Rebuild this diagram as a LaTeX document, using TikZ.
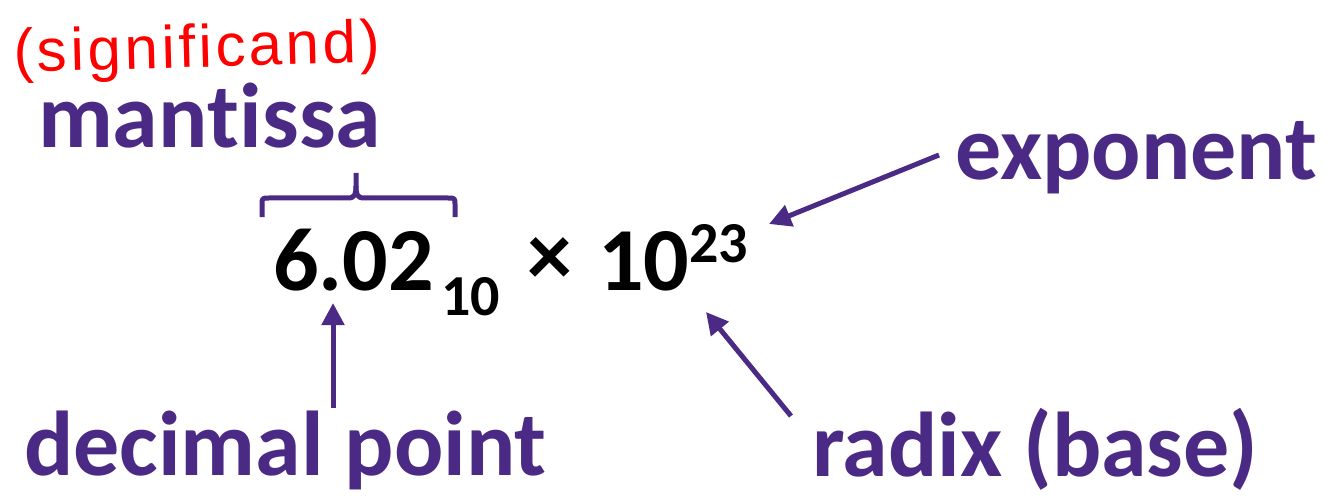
\documentclass[tikz,border=0pt]{standalone}
\usepackage{fontspec}
\setmainfont{Carlito}[Ligatures={NoCommon,NoContextual},RawFeature={-liga;-clig;-dlig}]
\newfontfamily\handfont{Liberation Sans}[LetterSpace=6]
\usetikzlibrary{arrows.meta}
\definecolor{labelpurple}{RGB}{75,42,134}
\definecolor{inkred}{RGB}{255,0,0}
\tikzset{
  lbl/.style={font=\bfseries\fontsize{92}{92}\selectfont, text=labelpurple, inner sep=0pt, anchor=base west},
  bignum/.style={font=\bfseries\fontsize{90}{90}\selectfont, inner sep=0pt, anchor=base west},
  smallnum/.style={font=\bfseries\fontsize{58}{58}\selectfont, inner sep=0pt, anchor=base west},
  ptr/.style={draw=labelpurple, line width=5pt, -{Triangle[length=22pt,width=22pt]}},
  bracestyle/.style={draw=labelpurple, line width=5pt, line join=round},
}
\begin{document}
\begin{tikzpicture}[x=1pt,y=-1pt]
\useasboundingbox (0,0) rectangle (1327,497);
% handwritten note
\node[text=inkred, font=\handfont\fontsize{60}{60}\selectfont, inner sep=0pt, anchor=base west, rotate=1.5] (sig) at (14,72) {(significand)};
% labels
\node[lbl] (mantissa) at (38,148) {man\kern0pt t\kern0pt issa};
\node[lbl] (exponent) at (955,180) {exponent};
\node[lbl] (decimal) at (24,475) {decimal point};
\node[lbl] (radix) at (812,476) {radix (base)};
% expression
\node[bignum] (coef) at (273,290) {6.02};
\node[smallnum] (sub) at (441,315) {10};
\node[bignum, anchor=center] (times) at (550,262) {×};
\node[bignum] (ten) at (598,290) {10};
\node[smallnum] (sup) at (689,262) {23};
% brace
\coordinate (bl) at (262,217);
\coordinate (br) at (455,217);
\coordinate (btip) at (356,173);
\draw[bracestyle] (bl) -- (262,205) .. controls (262,198) .. (269,198) -- (348,198)
  .. controls (355,198) and (356,194) .. (356,186) -- (btip);
\draw[bracestyle] (br) -- (455,205) .. controls (455,198) .. (448,198) -- (364,198)
  .. controls (357,198) and (356,194) .. (356,186);
% arrows
\coordinate (dptip) at (333,303);
\coordinate (exptip) at (769,224);
\coordinate (radtip) at (706,312);
\draw[ptr] (333,408) -- (dptip);
\draw[ptr] (939,155) -- (exptip);
\draw[ptr] (791,416) -- (radtip);
\end{tikzpicture}
\end{document}
